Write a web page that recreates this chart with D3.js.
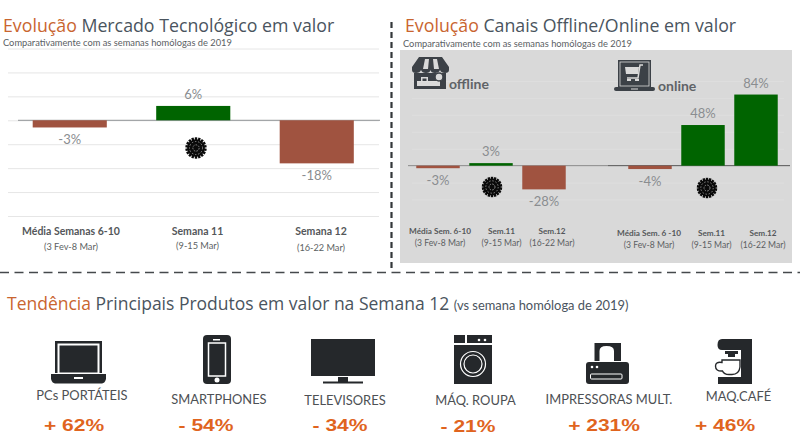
<!DOCTYPE html>
<html lang="pt">
<head>
<meta charset="utf-8">
<script src="https://cdn.jsdelivr.net/npm/d3@7"></script>
<style>
  html, body { margin: 0; padding: 0; background: #fff; }
  svg { display: block; }
  text { font-family: Lato, sans-serif; }
  .head { font-family: "Open Sans", sans-serif; font-size: 17.75px; fill: #4a545e; }
  .head .accent { fill: #c9652f; }
  .sub { font-size: 9.3px; fill: #5a5e63; }
  .val { fill: #8a8d90; }
  .cat { fill: #54575a; font-weight: 700; text-anchor: middle; }
  .range { fill: #5c5f62; text-anchor: middle; }
  .prod { fill: #4d5054; font-size: 12.9px; text-anchor: middle; }
  .pct { fill: #e0641e; font-family: "Liberation Sans", sans-serif; font-weight: 700; font-size: 16.8px; text-anchor: middle; }
</style>
</head>
<body>
<svg id="chart" width="800" height="447"></svg>
<script>
// Year-on-year change in value, tech market
const marketCategories = ["Média Semanas 6-10", "Semana 11", "Semana 12"];
const marketRanges = ["(3 Fev-8 Mar)", "(9-15 Mar)", "(16-22 Mar)"];
const marketValues = [-3, 6, -18];

// Year-on-year change in value, by channel
const offlineCategories = ["Média Sem. 6-10", "Sem.11", "Sem.12"];
const onlineCategories = ["Média Sem. 6 -10", "Sem.11", "Sem.12"];
const channelRanges = ["(3 Fev-8 Mar)", "(9-15 Mar)", "(16-22 Mar)"];
const offlineValues = [-3, 3, -28];
const onlineValues = [-4, 48, 84];

// Main products, week 12
const productNames = ["PCs PORTÁTEIS", "SMARTPHONES", "TELEVISORES", "MÁQ. ROUPA", "IMPRESSORAS MULT.", "MAQ.CAFÉ"];
const productChanges = ["+ 62%", "- 54%", "- 34%", "- 21%", "+ 231%", "+ 46%"];

const GREEN = "#006400", RUST = "#a05340", INK = "#25282b";
const svg = d3.select("#chart");

function title(x, y, accent, rest) {
  const t = svg.append("text").attr("class", "head").attr("x", x).attr("y", y);
  t.append("tspan").attr("class", "accent").text(accent);
  t.append("tspan").text(" " + rest);
}
function subtitle(x, y) {
  svg.append("text").attr("class", "sub").attr("x", x).attr("y", y)
    .text("Comparativamente com as semanas homólogas de 2019");
}

// Coronavirus marker: dark disc ringed with square studs, speckled core
function virus(cx, cy, r) {
  const g = svg.append("g").attr("transform", `translate(${cx},${cy})`);
  g.append("circle").attr("r", r * 0.84).attr("fill", "#0a0a0a");
  g.append("g").selectAll("rect").data(d3.range(18)).join("rect")
    .attr("x", -1.2).attr("y", -r - 0.2).attr("width", 2.4).attr("height", 3)
    .attr("fill", "#0a0a0a")
    .attr("transform", d => `rotate(${d * 20})`);
  g.append("circle").attr("r", r * 0.62).attr("fill", "none").attr("stroke", "#8c8c8c")
    .attr("stroke-width", 1).attr("stroke-dasharray", "1.4 1.8");
  g.append("circle").attr("r", r * 0.3).attr("fill", "none").attr("stroke", "#8c8c8c")
    .attr("stroke-width", 1).attr("stroke-dasharray", "1.6 1.2");
}

function bars(values, x, y) {
  const idx = values.map((_, i) => i);
  svg.append("g").selectAll("rect").data(idx).join("rect")
    .attr("x", i => x(i))
    .attr("width", x.bandwidth())
    .attr("y", i => Math.min(y(values[i]), y(0)))
    .attr("height", i => Math.abs(y(values[i]) - y(0)))
    .attr("fill", i => values[i] >= 0 ? GREEN : RUST);
}

function valueLabels(values, x, y, size, gapUp, gapDown) {
  svg.append("g").selectAll("text").data(values).join("text")
    .attr("class", "val").attr("font-size", size).attr("text-anchor", "middle")
    .attr("x", (d, i) => x(i) + x.bandwidth() / 2)
    .attr("y", d => d >= 0 ? y(d) - gapUp : y(d) + gapDown)
    .text(d => d + "%");
}

function categoryLabels(names, ranges, centres, yName, yRange, nameSize, rangeSize) {
  names.forEach((n, i) => {
    svg.append("text").attr("class", "cat").attr("font-size", nameSize)
      .attr("x", centres[i]).attr("y", yName[i]).text(n);
    svg.append("text").attr("class", "range").attr("font-size", rangeSize)
      .attr("x", centres[i]).attr("y", yRange[i]).text(ranges[i]);
  });
}

function grid(y, ticks, x1, x2, colour) {
  const axis = d3.axisLeft(y).tickValues(ticks).tickSize(x1 - x2).tickFormat("");
  const g = svg.append("g").attr("transform", `translate(${x1},0)`).call(axis);
  g.select(".domain").remove();
  g.selectAll("line").attr("stroke", colour).attr("stroke-width", 1);
}

/* ---------- left panel ---------- */
title(3, 31.5, "Evolução", "Mercado Tecnológico em valor");
subtitle(3, 46);
const yMarket = d3.scaleLinear().domain([-40, 30]).range([216, 48.5]);
grid(yMarket, d3.range(-40, 31, 10), 379, 8, "#e6e6e6");
const xMarket = d3.scaleBand().domain(d3.range(3)).range([8, 378.5]).paddingInner(0.4).paddingOuter(0.2);
svg.append("line").attr("x1", 18).attr("x2", 380).attr("y1", yMarket(0)).attr("y2", yMarket(0)).attr("stroke", "#8f9396");
bars(marketValues, xMarket, yMarket);
valueLabels(marketValues, xMarket, yMarket, 13, 7, 17);
categoryLabels(marketCategories, marketRanges, [71, 197.5, 321], [235, 234.5, 235], [250, 249, 250.5], 10.5, 9.2);
virus(196, 148, 10.5);

/* ---------- right panel ---------- */
title(405, 32, "Evolução", "Canais Offline/Online em valor");
subtitle(403, 47);
svg.append("rect").attr("x", 400).attr("y", 50).attr("width", 392).attr("height", 213).attr("fill", "#d9d9d9");
const yChannel = d3.scaleLinear().domain([-50, 100]).range([208, 81]);
grid(yChannel, d3.range(-40, 101, 20).filter(d => d !== 0), 784, 412, "#dedede");
const xOffline = d3.scaleBand().domain(d3.range(3)).range([411.5, 570.5]).paddingInner(0.18).paddingOuter(0.09);
const xOnline = d3.scaleBand().domain(d3.range(3)).range([623.5, 782.5]).paddingInner(0.18).paddingOuter(0.09);
svg.append("line").attr("x1", 408).attr("x2", 608).attr("y1", yChannel(0)).attr("y2", yChannel(0)).attr("stroke", "#8a8a8a");
svg.append("line").attr("x1", 608).attr("x2", 790).attr("y1", yChannel(0)).attr("y2", yChannel(0)).attr("stroke", "#555");
bars(offlineValues, xOffline, yChannel);
bars(onlineValues, xOnline, yChannel);
valueLabels(offlineValues, xOffline, yChannel, 13, 7, 17);
valueLabels(onlineValues, xOnline, yChannel, 13, 7, 17);
categoryLabels(offlineCategories, channelRanges, [440, 501.5, 552], [234, 234, 234], [246, 246, 246], 8.2, 8.6);
categoryLabels(onlineCategories, channelRanges, [649, 711.5, 763], [236, 236, 236], [248, 248, 248], 8.2, 8.6);
virus(492, 187, 10);
virus(707, 188, 10);

// Shop front icon
(function () {
  const g = svg.append("g").attr("transform", "translate(412,57)").attr("fill", "#3c4147");
  g.append("path").attr("d", "M7 0H30L37 10V13Q37 16 33 16Q29 16 28 13Q27 16 23 16Q19 16 18.500 13Q18 16 14 16Q10 16 9 13Q8 16 4 16Q0 16 0 13V10Z");
  g.append("path").attr("fill", "#d9d9d9").attr("d", "M13 2H17L16 12H11ZM21 2H25L27 12H22Z");
  g.append("path").attr("fill-rule", "evenodd").attr("d", "M2 16H34V32H2ZM9 20V24H5V29H28V24H16V20ZM10.500 21.500V24H14.500V21.500Z");
  g.append("circle").attr("cx", 27).attr("cy", 20).attr("r", 4).attr("fill", "#d9d9d9").attr("stroke", "#3c4147").attr("stroke-width", 1.5);
})();
svg.append("text").attr("x", 449).attr("y", 89).attr("font-size", 14).attr("font-weight", 700).attr("fill", "#5f6367").text("offline");

// Laptop-with-cart icon
(function () {
  const g = svg.append("g").attr("transform", "translate(614,60)").attr("fill", "#3c4147");
  g.append("path").attr("d", "M4 0H37V28H4Z");
  g.append("rect").attr("x", 6).attr("y", 2).attr("width", 29).attr("height", 24).attr("fill", "#3c4147").attr("stroke", "#d9d9d9").attr("stroke-width", 0.8);
  g.append("path").attr("fill", "none").attr("stroke", "#d9d9d9").attr("stroke-width", 1.5).attr("d", "M29 5H26L24 18H13");
  g.append("path").attr("fill", "#d9d9d9").attr("d", "M11 7H25L24 14H12ZM13 19H17V21H13ZM21 19H25V21H21Z");
  g.append("path").attr("d", "M2 27H39Q41 27 41 29Q41 31 39 31H2Q0 31 0 29Q0 27 2 27Z");
  g.append("rect").attr("x", 17).attr("y", 28.500).attr("width", 7).attr("height", 1).attr("fill", "#d9d9d9");
})();
svg.append("text").attr("x", 658).attr("y", 91).attr("font-size", 14).attr("font-weight", 700).attr("fill", "#5f6367").text("online");

/* ---------- separators ---------- */
svg.append("line").attr("x1", 391.5).attr("x2", 391.5).attr("y1", 22).attr("y2", 272)
  .attr("stroke", "#33373a").attr("stroke-width", 2.2).attr("stroke-dasharray", "6 4");
svg.append("line").attr("x1", 0).attr("x2", 800).attr("y1", 272.5).attr("y2", 272.5)
  .attr("stroke", "#45494c").attr("stroke-width", 1.6).attr("stroke-dasharray", "9 5.5");

/* ---------- product trends ---------- */
const trend = svg.append("text").attr("class", "head").attr("x", 7).attr("y", 310).style("font-size", "17.5px");
trend.append("tspan").attr("class", "accent").text("Tendência");
trend.append("tspan").text(" Principais Produtos em valor na Semana 12 ");
trend.append("tspan").style("font-family", "Lato, sans-serif").style("font-size", "12.9px").text("(vs semana homóloga de 2019)");

const nameX = [82, 219, 345, 475.5, 609, 738.5];
const nameY = [400, 404, 405, 405, 403.5, 400.5];
const pctX = [74, 206, 340, 468, 604, 725];
const pctY = [431, 431, 431, 432, 431, 431];
svg.append("g").selectAll("text").data(productNames).join("text")
  .attr("class", "prod").attr("x", (d, i) => nameX[i]).attr("y", (d, i) => nameY[i]).text(d => d);
// The percentages are set in a horizontally widened bold face
svg.append("g").selectAll("text").data(productChanges).join("text")
  .attr("class", "pct")
  .attr("transform", (d, i) => `translate(${pctX[i]},${pctY[i]}) scale(1.25,1)`)
  .text(d => d);

// Product pictograms
const icons = svg.append("g").attr("fill", INK);
// laptop
icons.append("path").attr("fill-rule", "evenodd").attr("d", "M55 341H102V373H55ZM57.500 343.500V373H99.500V343.500Z");
icons.append("rect").attr("x", 59.500).attr("y", 345.500).attr("width", 38).attr("height", 27);
icons.append("path").attr("d", "M51 374H106V379Q105 383 102 383.500H55Q52 383 51 379Z");
icons.append("rect").attr("x", 74).attr("y", 377).attr("width", 9).attr("height", 2).attr("fill", "#fff");
// phone
icons.append("rect").attr("x", 203).attr("y", 335).attr("width", 28).attr("height", 49).attr("rx", 4);
icons.append("rect").attr("x", 208.500).attr("y", 343).attr("width", 17).attr("height", 33).attr("fill", INK).attr("stroke", "#fff").attr("stroke-width", 1.5);
icons.append("rect").attr("x", 213).attr("y", 339).attr("width", 7).attr("height", 1.500).attr("fill", "#fff");
icons.append("circle").attr("cx", 217).attr("cy", 380).attr("r", 2.500).attr("fill", "#fff");
// television
icons.append("rect").attr("x", 311).attr("y", 339).attr("width", 64).attr("height", 37);
icons.append("rect").attr("x", 338).attr("y", 377).attr("width", 10).attr("height", 5);
icons.append("rect").attr("x", 323).attr("y", 381.500).attr("width", 40).attr("height", 2);
// washing machine
icons.append("rect").attr("x", 454).attr("y", 335).attr("width", 11).attr("height", 8);
icons.append("rect").attr("x", 467).attr("y", 335).attr("width", 25).attr("height", 8);
icons.append("rect").attr("x", 454).attr("y", 345).attr("width", 38).attr("height", 39);
icons.append("circle").attr("cx", 473).attr("cy", 364).attr("r", 12.500).attr("fill", "none").attr("stroke", "#fff").attr("stroke-width", 1.2);
icons.append("circle").attr("cx", 473).attr("cy", 364).attr("r", 9).attr("fill", "none").attr("stroke", "#fff").attr("stroke-width", 1.2);
icons.selectAll(".knob").data([479, 485]).join("circle").attr("class", "knob")
  .attr("cx", d => d).attr("cy", 340).attr("r", 1.300).attr("fill", "#fff");
// printer
icons.append("path").attr("fill-rule", "evenodd").attr("d", "M594.500 343H621V361H594.500ZM599.500 361H614V351Q614 346 606.500 346Q599.500 346 599.500 351Z");
icons.append("rect").attr("x", 586).attr("y", 362).attr("width", 43).attr("height", 22).attr("rx", 3);
icons.append("rect").attr("x", 590.500).attr("y", 374).attr("width", 31.500).attr("height", 5).attr("rx", 1).attr("fill", "none").attr("stroke", "#fff").attr("stroke-width", 1);
icons.selectAll(".led").data([592, 597]).join("circle").attr("class", "led")
  .attr("cx", d => d).attr("cy", 367).attr("r", 1.300).attr("fill", "#fff");
// coffee machine
icons.append("path").attr("d", "M722 339H752V384H718V377H741V350H722Q717.500 350 717.500 345Q717.500 339 722 339Z");
icons.append("path").attr("d", "M725 351H738V354H735V357H728V354H725Z");
icons.append("path").attr("fill", "#fff").attr("stroke", INK).attr("stroke-width", 1.4)
  .attr("d", "M722 360H740V367Q739 374.500 732 374.500H729Q724 374.500 722.500 371Q715.500 371.500 715.500 366Q715.500 361.500 722 362.500Z");
</script>
</body>
</html>
